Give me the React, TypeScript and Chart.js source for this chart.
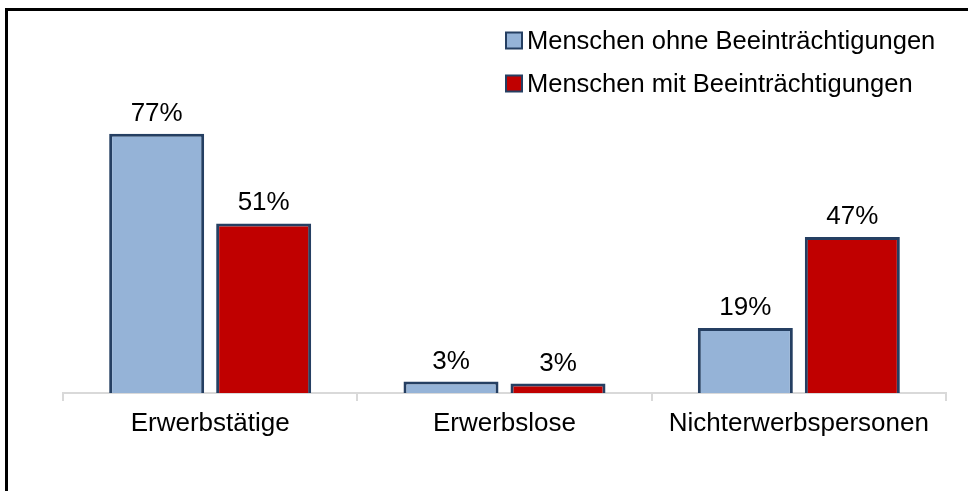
import React, { useEffect, useRef } from "react";
import { Chart, registerables } from "chart.js";

Chart.register(...registerables);

const categories = ["Erwerbstätige", "Erwerbslose", "Nichterwerbspersonen"];
const seriesNames = ["Menschen ohne Beeinträchtigungen", "Menschen mit Beeinträchtigungen"];
const ohneValues = [77.4, 3.4, 19.4];
const mitValues = [50.6, 2.8, 46.6];

const FONT = "'Liberation Sans', Arial, sans-serif";
const BLUE = "#95B3D7";
const RED = "#C00000";
const EDGE = "#253F62";

const valueLabels = {
  id: "valueLabels",
  afterDatasetsDraw(chart: any) {
    const ctx = chart.ctx;
    ctx.save();
    ctx.font = `26px ${FONT}`;
    ctx.fillStyle = "#000";
    ctx.textAlign = "center";
    ctx.textBaseline = "alphabetic";
    chart.data.datasets.forEach((ds: any, i: number) => {
      const meta = chart.getDatasetMeta(i);
      meta.data.forEach((bar: any, j: number) => {
        ctx.fillText(Math.round(ds.data[j]) + "%", bar.x, bar.y - 13);
      });
    });
    ctx.restore();
  },
};

const boxLegend = {
  id: "boxLegend",
  afterDraw(chart: any) {
    const ctx = chart.ctx;
    ctx.save();
    ctx.font = `25.5px ${FONT}`;
    ctx.textAlign = "left";
    ctx.textBaseline = "alphabetic";
    chart.data.datasets.forEach((ds: any, i: number) => {
      const base = 48.5 + i * 43;
      const size = 16;
      ctx.fillStyle = ds.backgroundColor;
      ctx.fillRect(506, base - size, size, size);
      ctx.strokeStyle = EDGE;
      ctx.lineWidth = 2;
      ctx.strokeRect(506, base - size, size, size);
      ctx.fillStyle = "#000";
      ctx.fillText(ds.label, 527, base);
    });
    ctx.restore();
  },
};

export default function App() {
  const ref = useRef<HTMLCanvasElement>(null);
  useEffect(() => {
    document.body.style.margin = "0";
    document.body.style.overflow = "hidden";
    const chart = new Chart(ref.current!, {
      type: "bar",
      data: {
        labels: categories,
        datasets: [
          {
            label: seriesNames[0],
            data: ohneValues,
            backgroundColor: BLUE,
            borderColor: EDGE,
            borderWidth: 3,
            borderSkipped: "bottom",
            barPercentage: 0.888,
            categoryPercentage: 0.727,
          },
          {
            label: seriesNames[1],
            data: mitValues,
            backgroundColor: RED,
            borderColor: EDGE,
            borderWidth: 3,
            borderSkipped: "bottom",
            barPercentage: 0.888,
            categoryPercentage: 0.727,
          },
        ],
      },
      options: {
        animation: false,
        responsive: false,
        maintainAspectRatio: false,
        layout: { padding: { top: 58, left: 63, right: 22, bottom: 44.8 } },
        plugins: {
          legend: { display: false },
          tooltip: { enabled: false },
        },
        scales: {
          x: {
            grid: {
              offset: true,
              drawOnChartArea: false,
              drawTicks: true,
              tickLength: 8,
              color: "#D9D9D9",
              lineWidth: 2,
            },
            border: { display: true, color: "#D9D9D9", width: 2 },
            ticks: {
              color: "#000",
              padding: 7,
              font: { family: FONT, size: 26 },
            },
          },
          y: {
            display: false,
            min: 0,
            max: 100,
          },
        },
      },
      plugins: [valueLabels, boxLegend],
    });
    return () => chart.destroy();
  }, []);

  return (
    <div
      style={{
        position: "fixed",
        left: 0,
        top: 0,
        width: 968,
        height: 491,
        overflow: "hidden",
        background: "#fff",
      }}
    >
      <canvas ref={ref} width={968} height={491} style={{ position: "absolute", left: 0, top: 0 }} />
      <div
        style={{
          position: "absolute",
          left: 5,
          top: 8,
          width: 2000,
          height: 2000,
          border: "3px solid #000",
          pointerEvents: "none",
        }}
      />
    </div>
  );
}
